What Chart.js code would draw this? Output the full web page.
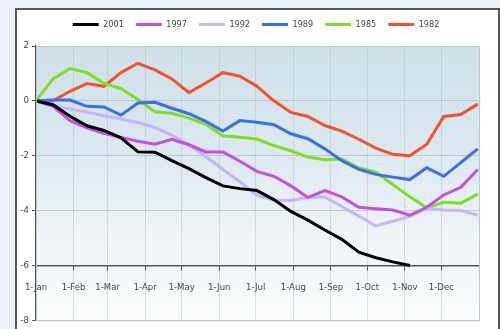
<!DOCTYPE html>
<html>
<head>
<meta charset="utf-8">
<script src="https://cdn.jsdelivr.net/npm/chart.js"></script>
<style>
  html, body { margin: 0; padding: 0; width: 500px; height: 329px; overflow: hidden; background: #eef4f9; }
  #frame { position: absolute; left: 15px; top: 8px; width: 481px; height: 340px; background: #fff; border: 2px solid #555; }
  #wrap { position: absolute; left: 0; top: 0; width: 500px; height: 329px; }
</style>
</head>
<body>
<div id="frame"></div>
<div id="wrap"><canvas id="chart"></canvas></div>
<script>
// day of year for each point (every two weeks)
const days = [0,14,28,42,56,70,84,98,112,126,140,154,168,182,196,210,224,238,252,266,280,294,308,322,336,350,364];

const monthStarts = [0,31,59,90,120,151,181,212,243,273,304,334];
const monthLabels = ['1-Jan','1-Feb','1-Mar','1-Apr','1-May','1-Jun','1-Jul','1-Aug','1-Sep','1-Oct','1-Nov','1-Dec'];

const y2001 = [0,-0.14,-0.56,-0.91,-1.08,-1.35,-1.86,-1.87,-2.18,-2.47,-2.8,-3.1,-3.2,-3.27,-3.6,-4.03,-4.35,-4.71,-5.05,-5.52,-5.72,-5.87,-6.0,null,null,null,null];
const y1997 = [0,-0.2,-0.72,-0.98,-1.18,-1.33,-1.47,-1.58,-1.4,-1.6,-1.86,-1.86,-2.2,-2.57,-2.75,-3.1,-3.52,-3.27,-3.5,-3.88,-3.93,-3.98,-4.17,-3.88,-3.43,-3.15,-2.5];
const y1992 = [0,-0.15,-0.3,-0.41,-0.54,-0.66,-0.79,-0.98,-1.25,-1.6,-2.03,-2.5,-2.95,-3.45,-3.62,-3.63,-3.52,-3.5,-3.85,-4.2,-4.56,-4.39,-4.21,-3.92,-3.98,-4.0,-4.17];
const y1989 = [0,0.03,0.03,-0.2,-0.22,-0.52,-0.08,-0.05,-0.27,-0.47,-0.75,-1.1,-0.72,-0.78,-0.87,-1.2,-1.38,-1.75,-2.18,-2.5,-2.68,-2.78,-2.87,-2.44,-2.75,-2.25,-1.75];
const y1985 = [0,0.8,1.18,1.03,0.64,0.45,0.05,-0.4,-0.45,-0.63,-0.86,-1.27,-1.33,-1.39,-1.63,-1.82,-2.05,-2.15,-2.12,-2.45,-2.6,-3.05,-3.5,-3.9,-3.7,-3.73,-3.4];
const y1982 = [0,0,0.35,0.63,0.53,1.03,1.37,1.13,0.8,0.3,0.65,1.03,0.9,0.53,0,-0.42,-0.57,-0.9,-1.1,-1.4,-1.72,-1.95,-2.0,-1.58,-0.57,-0.5,-0.12];

const font = "'Liberation Sans Narrow', 'DejaVu Sans Condensed', Arial, sans-serif";

function pts(vals) {
  return days.map((d, i) => ({ x: d, y: vals[i] }));
}

function line(label, vals, color) {
  return {
    label: label,
    data: pts(vals),
    borderColor: color,
    backgroundColor: color,
    borderWidth: 3,
    pointRadius: 0,
    tension: 0,
    spanGaps: false
  };
}

// legend gets a fixed height so the plot starts at the right place
const legendHeight = {
  id: 'legendHeight',
  beforeInit(chart) {
    const fit = chart.legend.fit;
    chart.legend.fit = function () {
      fit.bind(chart.legend)();
      this.height = 38;
    };
  }
};

// gradient behind the plot, plus the thin frame round it
const plotBack = {
  id: 'plotBack',
  beforeDraw(chart) {
    const a = chart.chartArea, ctx = chart.ctx;
    const g = ctx.createLinearGradient(0, a.top, 0, a.bottom);
    g.addColorStop(0, 'rgb(206,224,234)');
    g.addColorStop(0.4, 'rgb(220,233,240)');
    g.addColorStop(0.72, 'rgb(240,245,248)');
    g.addColorStop(1, 'rgb(251,252,253)');
    ctx.save();
    ctx.fillStyle = g;
    ctx.fillRect(a.left, a.top, a.right - a.left, a.bottom - a.top);
    ctx.restore();
  },
  afterDraw(chart) {
    const a = chart.chartArea, ctx = chart.ctx;
    ctx.save();
    ctx.strokeStyle = '#b9c9d0';
    ctx.lineWidth = 1;
    ctx.strokeRect(a.left + 0.5, a.top + 0.5, a.right - a.left, a.bottom - a.top);
    ctx.restore();
  }
};

new Chart(document.getElementById('chart'), {
  type: 'line',
  data: {
    datasets: [
      line('2001', y2001, '#000000'),
      line('1997', y1997, '#c44fe0'),
      line('1992', y1992, '#c6b6f4'),
      line('1989', y1989, '#3b6ee8'),
      line('1985', y1985, '#7ee021'),
      line('1982', y1982, '#f2522e')
    ]
  },
  options: {
    responsive: true,
    maintainAspectRatio: false,
    animation: false,
    layout: { padding: { left: 12, right: 0, top: 8, bottom: 7 } },
    plugins: {
      legend: {
        position: 'top',
        labels: {
          usePointStyle: true,
          pointStyle: 'line',
          pointStyleWidth: 26,
          boxHeight: 9,
          padding: 12,
          color: '#444',
          font: { family: font, size: 9 }
        }
      },
      tooltip: { enabled: false }
    },
    scales: {
      x: {
        type: 'linear',
        min: 0,
        max: 365,
        position: { y: -6 },
        afterBuildTicks(scale) {
          scale.ticks = monthStarts.map(v => ({ value: v }));
        },
        ticks: {
          callback: (v) => monthLabels[monthStarts.indexOf(v)],
          color: '#444',
          padding: 12,
          maxRotation: 0,
          autoSkip: false,
          font: { family: font, size: 9.5 }
        },
        grid: { color: 'rgba(170,190,196,0.45)', tickColor: '#555', tickLength: 4 },
        border: { color: '#555', width: 1.5 }
      },
      y: {
        min: -8,
        max: 2,
        afterFit(scale) { scale.width = 24; },
        ticks: {
          stepSize: 2,
          color: '#444',
          padding: 3,
          font: { family: font, size: 9.5 }
        },
        grid: { color: 'rgba(160,180,186,0.6)', tickColor: '#555', tickLength: 4 },
        border: { color: '#555', width: 1.5 }
      },
      // empty strip on the right, keeps the legend centred like the original
      yRight: {
        position: 'right',
        min: -8,
        max: 2,
        afterFit(scale) { scale.width = 21; },
        ticks: { display: false },
        grid: { drawOnChartArea: false, drawTicks: false },
        border: { display: false }
      }
    }
  },
  plugins: [plotBack, legendHeight]
});
</script>
</body>
</html>
